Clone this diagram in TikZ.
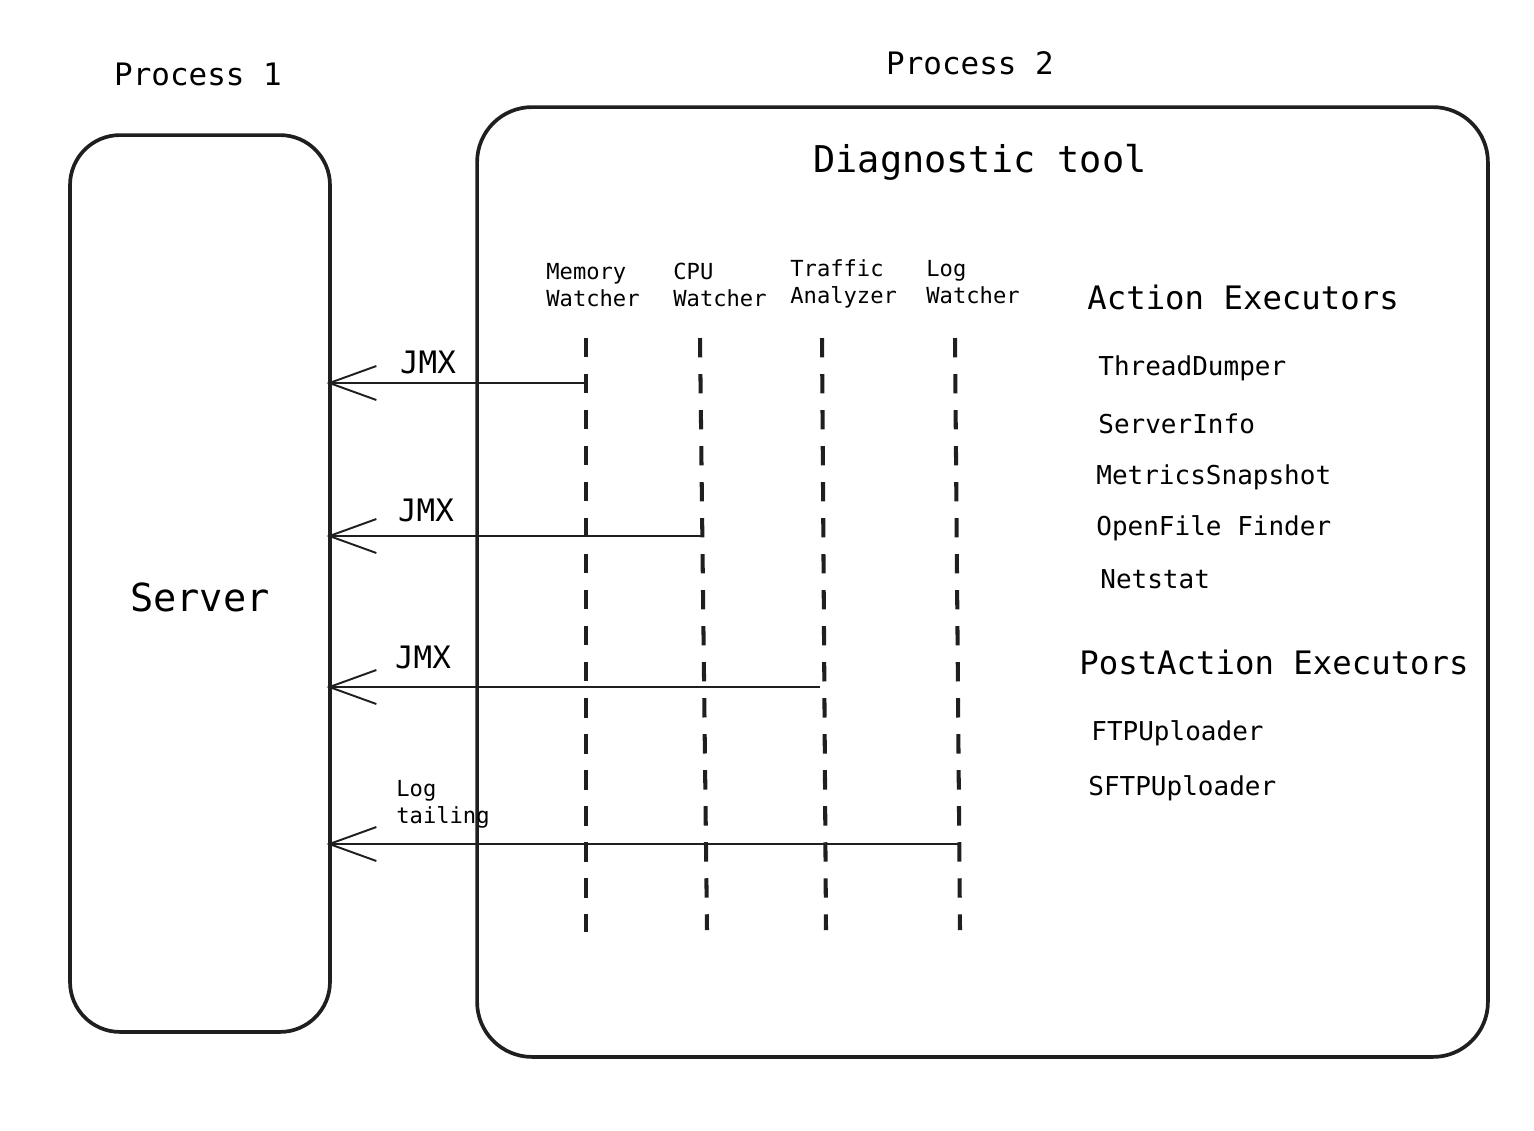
\documentclass[tikz,border=0pt]{standalone}
\usepackage{fontspec}
\setmainfont{DejaVu Sans Mono}
\usetikzlibrary{arrows.meta,positioning}

\begin{document}
\begin{tikzpicture} [
	x=0.02cm, y=-0.02cm,
	procbox/.style = {draw, color=black!88, line width=2.1pt, rounded corners=1cm, inner sep=0},
	caption/.style = {font=\fontsize{17.6}{21}\selectfont},
	title/.style = {font=\fontsize{21}{25}\selectfont},
	heading/.style = {font=\fontsize{18.4}{22}\selectfont, anchor=west, inner sep=0},
	item/.style = {font=\fontsize{14.8}{18}\selectfont, anchor=west, inner sep=0},
	watch/.style = {font=\fontsize{12.6}{15.4}\selectfont, align=left, anchor=west, inner sep=0},
	lifeline/.style = {color=black!88, line width=2.3pt, dash pattern=on 11pt off 9.5pt},
	call/.style = {color=black!88, line width=1.1pt, shorten >=-3pt, -{Straight Barb[length=9.4mm, width=6.8mm, line width=1.1pt]}}
]
\useasboundingbox (0,0) rectangle (1534,1130);
\node [caption] (proc1) at (198,74) {Process 1};
\node [caption] (proc2) at (970,63) {Process 2};
\node [procbox, minimum width=5.2cm, minimum height=17.94cm] (server) at (200,583.5) {};
\node [font=\fontsize{22}{26}\selectfont] (servername) at (200,597) {Server};
\node [procbox, rounded corners=1.1cm, minimum width=20.22cm, minimum height=19cm] (tool) at (982.5,582) {};
\node [title] (toolname) at (980,162) {Diagnostic tool};
\node [watch] (memory) at (546,285) {Memory\\Watcher};
\node [watch] (cpu) at (673,285) {CPU\\Watcher};
\node [watch] (traffic) at (790,284) {Traffic\\Analyzer};
\node [watch] (log) at (926,282) {Log\\Watcher};
\node [heading] (actions) at (1087,297) {Action Executors};
\node [item] (dumper) at (1098,368) {ThreadDumper};
\node [item] (info) at (1098,424) {ServerInfo};
\node [item] (metrics) at (1096,477) {MetricsSnapshot};
\node [item] (openfile) at (1096,528) {OpenFile Finder};
\node [item] (netstat) at (1100,579) {Netstat};
\node [heading] (postactions) at (1079,662) {PostAction Executors};
\node [item] (ftp) at (1091,733) {FTPUploader};
\node [item] (sftp) at (1088,788) {SFTPUploader};
\coordinate (memtop) at (586,338);
\coordinate (membot) at (586,932);
\coordinate (cputop) at (700,338);
\coordinate (cpubot) at (707,930);
\coordinate (traffictop) at (822,338);
\coordinate (trafficbot) at (826,930);
\coordinate (logtop) at (955,338);
\coordinate (logbot) at (960,930);
\draw [lifeline] (memtop) -- (membot);
\draw [lifeline] (cputop) -- (cpubot);
\draw [lifeline] (traffictop) -- (trafficbot);
\draw [lifeline] (logtop) -- (logbot);
\coordinate (memtap) at (586,383);
\coordinate (cputap) at (701,536);
\coordinate (traffictap) at (820,687);
\coordinate (logtap) at (960,844);
\draw [call] (memtap) -- (memtap -| server.east);
\draw [call] (cputap) -- (cputap -| server.east);
\draw [call] (traffictap) -- (traffictap -| server.east);
\draw [call] (logtap) -- (logtap -| server.east);
\node [caption] (jmxmem) at (428,362) {JMX};
\node [caption] (jmxcpu) at (426,510) {JMX};
\node [caption] (jmxtraffic) at (423,657) {JMX};
\node [watch] (tailing) at (396,804) {Log\\tailing};
\end{tikzpicture}
\end{document}
